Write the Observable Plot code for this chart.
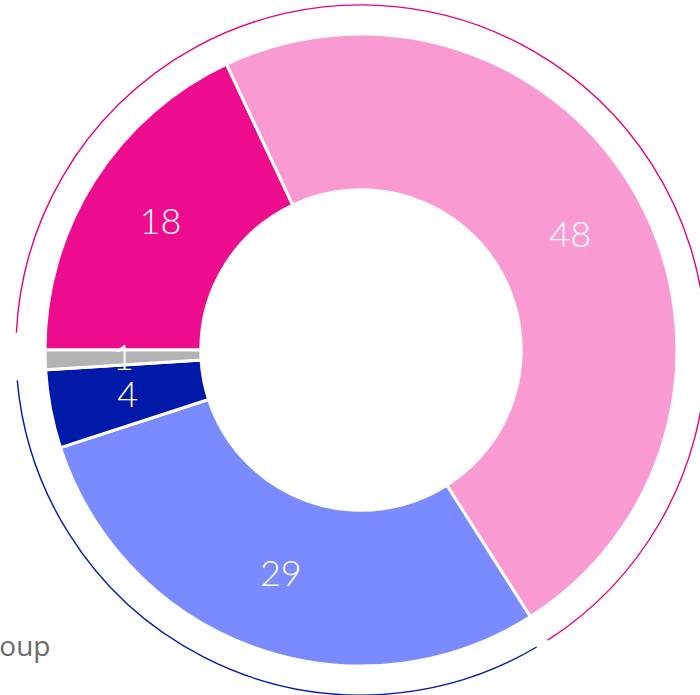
<!DOCTYPE html>
<html>
<head>
<meta charset="utf-8">
<script src="https://cdn.jsdelivr.net/npm/d3@7"></script>
<script src="https://cdn.jsdelivr.net/npm/@observablehq/plot@0.6"></script>
<style>
  html, body { margin: 0; padding: 0; background: #fff; overflow: hidden; }
  #chart svg { overflow: visible; display: block; }
</style>
</head>
<body>
<div id="chart"></div>
<script>
// Slices, clockwise starting at 9 o'clock
const categories = ["Group A", "Group B", "Group C", "Group D", "Group E"];
const values = [18, 48, 29, 4, 1];
const colors = ["#ED0C8D", "#F99AD3", "#7A8BFF", "#0019A8", "#B3B3B3"];

// Outer thin ring (share of the circle, % from the 9 o'clock start)
const ringGroups = ["Magenta group", "Navy group"];
const ringStartPct = [0.8, 66.5];
const ringEndPct = [65.9, 98.6];
const ringColors = ["#E8007F", "#0019A8"];

const legendText = "Other group";

// geometry (in data units, outer radius = 1)
const innerR = 0.507, outerR = 1, ringR = 1.092;
const start = 1.5 * Math.PI;

const data = categories.map((c, i) => ({category: c, value: values[i], color: colors[i]}));
const pie = d3.pie().sort(null).value(d => d.value).startAngle(start).endAngle(start + 2 * Math.PI);
const arcs = pie(data).map(a => {
  const m = (a.startAngle + a.endAngle) / 2, r = (innerR + outerR) / 2;
  return {...a, cx: r * Math.sin(m), cy: r * Math.cos(m)};
});
const ring = ringGroups.map((g, i) => ({
  group: g, color: ringColors[i],
  a0: start + ringStartPct[i] / 100 * 2 * Math.PI,
  a1: start + ringEndPct[i] / 100 * 2 * Math.PI
}));

const donut = (index, scales) => {
  const {x, y} = scales;
  const k = x(1) - x(0);
  const g = d3.create("svg:g").attr("transform", `translate(${x(0)},${y(0)})`);
  const arc = d3.arc().innerRadius(innerR * k).outerRadius(outerR * k);
  g.selectAll("path.slice").data(arcs).join("path")
    .attr("class", "slice")
    .attr("d", arc)
    .attr("fill", d => d.data.color)
    .attr("stroke", "#fff")
    .attr("stroke-width", 3);
  g.selectAll("path.ring").data(ring).join("path")
    .attr("class", "ring")
    .attr("d", d => { const p = d3.path(); p.arc(0, 0, ringR * k, d.a0 - Math.PI / 2, d.a1 - Math.PI / 2); return p.toString(); })
    .attr("fill", "none")
    .attr("stroke", d => d.color)
    .attr("stroke-width", 1.4);
  return g.node();
};

const W = 700, H = 695, R = 316;
const chart = Plot.plot({
  width: W, height: H,
  margin: 0,
  style: {fontFamily: "Lato, 'Open Sans', sans-serif", background: "#fff"},
  x: {domain: [-361 / R, (W - 361) / R], range: [0, W], axis: null},
  y: {domain: [-(H - 350) / R, 350 / R], range: [H, 0], axis: null},
  marks: [
    donut,
    Plot.text(arcs, {
      x: "cx", y: "cy", text: d => String(d.data.value),
      fill: "#fff", fontSize: 36, fontWeight: 300
    }),
    Plot.text([legendText], {
      frameAnchor: "top-left", text: d => d, textAnchor: "end",
      dx: 50, dy: 636, fill: "#6b6b6b", fontSize: 28, fontWeight: 400,
      fontFamily: "'Open Sans', Lato, sans-serif"
    })
  ]
});
document.getElementById("chart").append(chart);
</script>
</body>
</html>
